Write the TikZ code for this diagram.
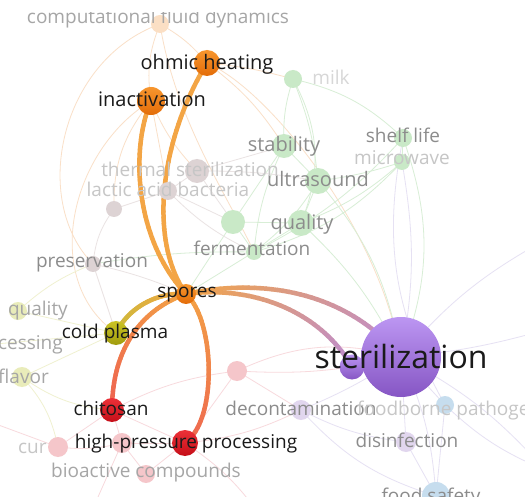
\documentclass[tikz,border=0pt]{standalone}
\usepackage{fontspec}
\setmainfont{Open Sans}
\definecolor{lblk}{HTML}{1A1A1A}
\definecolor{lgry}{HTML}{8C8C8C}
\definecolor{lmid}{HTML}{A6A6A6}
\definecolor{lfnt}{HTML}{C6C6C6}
\definecolor{orT}{HTML}{F7962E}
\definecolor{orB}{HTML}{E36C08}
\definecolor{edO}{HTML}{F3A545}
\definecolor{rdT}{HTML}{EC3138}
\definecolor{rdB}{HTML}{C50E18}
\definecolor{olT}{HTML}{CBC324}
\definecolor{olB}{HTML}{A09C0E}
\definecolor{puT}{HTML}{BC96F2}
\definecolor{puB}{HTML}{8656C4}
\definecolor{edOl}{HTML}{CDBA3A}
\definecolor{edR}{HTML}{EE6450}
\definecolor{edP}{HTML}{BE8CCF}
\definecolor{fOr}{HTML}{FAE0C8}
\definecolor{fGr}{HTML}{D8EED6}
\definecolor{fGy}{HTML}{EAE3E3}
\definecolor{fPu}{HTML}{E6E1F3}
\definecolor{fPk}{HTML}{F8DADD}
\definecolor{fYe}{HTML}{F0F1D0}
\definecolor{nGr}{HTML}{C9E9C7}
\definecolor{nGy}{HTML}{DDD3D4}
\definecolor{nPk}{HTML}{F5C6CA}
\definecolor{nPu}{HTML}{E1D6EE}
\definecolor{nBl}{HTML}{C6DDEE}
\definecolor{nYe}{HTML}{E9ECBA}
\definecolor{nOr}{HTML}{FBDFC4}
\newcommand{\gedge}[6]{%
  \path (#1) .. controls #2 and #3 .. (#4)
    foreach \q [evaluate=\q as \tq using \q/40] in {0,...,40}{coordinate[pos=\tq] (gp\q)};
  \foreach \q in {0,...,39}{%
    \pgfmathtruncatemacro{\qn}{\q+1}%
    \pgfmathtruncatemacro{\pc}{100*\q/39}%
    \draw[strong, #6!\pc!#5] (gp\q) -- (gp\qn);}%
}
\begin{document}
\begin{tikzpicture}[x=1pt,y=-1pt,
  strong/.style={line width=4.5pt, line cap=round},
  fe/.style={line width=0.8pt},
  vdot/.style={circle, inner sep=0pt, minimum size=#1},
  lb/.style={inner sep=0pt, anchor=base, font=\fontsize{19}{19}\selectfont, text=#1},
  lb/.default=lblk,
  big/.style={font=\fontsize{20}{20}\selectfont}]
\useasboundingbox (0,0) rectangle (525,497);
\clip (0,0) rectangle (525,497);
\fill[white] (0,0) rectangle (525,497);
% centres
\coordinate (compfd) at (160,24);
\coordinate (ohmic) at (207,63);
\coordinate (inact) at (151,101);
\coordinate (milk) at (293,79);
\coordinate (stab) at (284,146);
\coordinate (shelf) at (403,138);
\coordinate (micro) at (402,162);
\coordinate (ultra) at (318,181);
\coordinate (qualg) at (301,223);
\coordinate (ferm) at (254,252);
\coordinate (gA) at (233,222);
\coordinate (therm) at (197,171);
\coordinate (lab) at (168,191);
\coordinate (grA) at (114,209);
\coordinate (pres) at (93,264);
\coordinate (spores) at (186,294);
\coordinate (coldp) at (116,333);
\coordinate (qualy) at (18,311);
\coordinate (flav) at (22,377);
\coordinate (chit) at (112,410);
\coordinate (hpp) at (185,443);
\coordinate (pinkA) at (237,371);
\coordinate (pinkB) at (122,443);
\coordinate (bioact) at (146,474);
\coordinate (cur) at (58,447);
\coordinate (decont) at (301,410);
\coordinate (foodb) at (445,405);
\coordinate (disinf) at (406,442);
\coordinate (fsafe) at (436,496);
\coordinate (steril) at (401,357);
\coordinate (sterB) at (352,367);
\coordinate (offR1) at (545,240);
\coordinate (offR2) at (545,470);
\coordinate (offR3) at (545,330);
\coordinate (offL) at (-15,420);
\coordinate (offL2) at (-15,345);
\coordinate (offB) at (260,515);
\coordinate (offB2) at (90,515);
% faint connectors
\draw[fe,fOr] (compfd) to[bend right=15] (inact);
\draw[fe,fOr] (compfd) to[bend left=10] (ohmic);
\draw[fe,fOr] (compfd) .. controls (60,60) and (30,200) .. (pres);
\draw[fe,fOr] (compfd) .. controls (175,120) and (230,200) .. (ferm);
\draw[fe,fOr] (ohmic) .. controls (270,90) and (380,230) .. (steril);
\draw[fe,fOr] (ohmic) to[bend left=5] (milk);
\draw[fe,fOr] (ohmic) to[bend left=10] (stab);
\draw[fe,fOr] (inact) to[bend right=10] (therm);
\draw[fe,fOr] (inact) to[bend right=20] (grA);
\draw[fe,fOr] (inact) to (lab);
\draw[fe,fOr] (inact) .. controls (70,150) and (40,280) .. (coldp);
\draw[fe,fGr] (milk) to[bend right=10] (stab);
\draw[fe,fGr] (milk) to[bend left=8] (ultra);
\draw[fe,fGr] (milk) to[bend left=25] (qualg);
\draw[fe,fGr] (milk) to[bend left=15] (shelf);
\draw[fe,fGr] (stab) to (ultra);
\draw[fe,fGr] (stab) to (gA);
\draw[fe,fGr] (stab) to[bend right=10] (ferm);
\draw[fe,fGr] (shelf) to (micro);
\draw[fe,fGr] (micro) to[bend left=5] (ultra);
\draw[fe,fGr] (micro) to[bend left=10] (qualg);
\draw[fe,fGr] (micro) to[bend left=15] (ferm);
\draw[fe,fGr] (shelf) to[bend left=10] (ferm);
\draw[fe,fGr] (ultra) to (qualg);
\draw[fe,fGr] (ultra) to[bend left=10] (ferm);
\draw[fe,fGr] (qualg) to (ferm);
\draw[fe,fGr] (gA) to (ferm);
\draw[fe,fGr] (gA) to (qualg);
\draw[fe,fGr] (ultra) to[bend left=15] (steril);
\draw[fe,fGr] (qualg) to[bend left=10] (steril);
\draw[fe,fGr] (shelf) to[bend left=20] (steril);
\draw[fe,fGr] (gA) to (spores);
\draw[fe,fGr] (ferm) to (spores);
\draw[fe,fGr] (ferm) to[bend right=5] (pres);
\draw[fe,fGy] (therm) to (lab);
\draw[fe,fGy] (lab) to (grA);
\draw[fe,fGy] (grA) to[bend right=15] (pres);
\draw[fe,fGy] (therm) to (gA);
\draw[fe,fGy] (lab) to (gA);
\draw[fe,fGy] (therm) to (stab);
\draw[fe,fGy] (pres) to[bend left=5] (spores);
\draw[fe,fGy] (pres) to (coldp);
\draw[fe,fGy] (lab) to[bend right=10] (ferm);
\draw[fe,fGy] (therm) to[bend left=5] (ultra);
\draw[fe,fPu] (steril) to (disinf);
\draw[fe,fPu] (steril) to[bend left=10] (fsafe);
\draw[fe,fPu] (steril) to (foodb);
\draw[fe,fPu] (steril) to[bend left=5] (decont);
\draw[fe,fPu] (steril) to[bend left=10] (offR1);
\draw[fe,fPu] (steril) to[bend right=5] (offR3);
\draw[fe,fPu] (steril) to[bend left=10] (offR2);
\draw[fe,fPu] (disinf) to (fsafe);
\draw[fe,fPu] (foodb) to (fsafe);
\draw[fe,fPu] (decont) to[bend right=10] (disinf);
\draw[fe,fPu] (steril) to[bend right=10] (micro);
\draw[fe,fPu] (decont) to[bend right=15] (fsafe);
\draw[fe,fPu] (foodb) to[bend right=10] (offR2);
\draw[fe,fPu] (foodb) to[bend left=20] (shelf);
\draw[fe,fPk] (steril) to[bend left=8] (pinkA);
\draw[fe,fPk] (pinkA) to (hpp);
\draw[fe,fPk] (pinkA) to[bend right=10] (chit);
\draw[fe,fPk] (pinkA) to (decont);
\draw[fe,fPk] (chit) to (hpp);
\draw[fe,fPk] (chit) to (pinkB);
\draw[fe,fPk] (pinkB) to (hpp);
\draw[fe,fPk] (bioact) to (hpp);
\draw[fe,fPk] (bioact) to (pinkB);
\draw[fe,fPk] (cur) to (chit);
\draw[fe,fPk] (cur) to[bend right=10] (pinkB);
\draw[fe,fPk] (cur) to (offL);
\draw[fe,fPk] (hpp) to[bend left=10] (offB);
\draw[fe,fPk] (pinkB) to (offB2);
\draw[fe,fPk] (hpp) to[bend right=10] (decont);
\draw[fe,fPk] (pinkA) to[bend left=20] (steril);
\draw[fe,fYe] (coldp) to (qualy);
\draw[fe,fYe] (coldp) to (flav);
\draw[fe,fYe] (coldp) to (offL2);
\draw[fe,fYe] (flav) to[bend right=15] (chit);
\draw[fe,fYe] (qualy) to[bend left=10] (pres);
\draw[fe,fYe] (flav) to[bend left=15] (cur);
% strong connectors
\gedge{spores}{(135,240)}{(130,150)}{inact}{edO}{edO}
\gedge{spores}{(148,240)}{(160,140)}{ohmic}{edO}{edO}
\gedge{spores}{(160,292)}{(130,305)}{coldp}{edO}{edOl}
\gedge{spores}{(145,308)}{(112,345)}{chit}{edO}{edR}
\gedge{spores}{(215,320)}{(218,420)}{hpp}{edO}{edR}
\gedge{spores}{(260,278)}{(345,290)}{steril}{edO}{edP}
\gedge{spores}{(250,285)}{(320,310)}{sterB}{edO}{edP}
% circles
\node[vdot=18, fill=nOr] (compfd-c) at (compfd) {};
\node[vdot=18, fill=nGr] (milk-c) at (milk) {};
\node[vdot=24, fill=nGr] (stab-c) at (stab) {};
\node[vdot=18, fill=nGr] (shelf-c) at (shelf) {};
\node[vdot=16, fill=nGr] (micro-c) at (micro) {};
\node[vdot=26, fill=nGr] (ultra-c) at (ultra) {};
\node[vdot=26, fill=nGr] (qualg-c) at (qualg) {};
\node[vdot=16, fill=nGr] (ferm-c) at (ferm) {};
\node[vdot=24, fill=nGr] (gA-c) at (gA) {};
\node[vdot=24, fill=nGy] (therm-c) at (therm) {};
\node[vdot=18, fill=nGy] (lab-c) at (lab) {};
\node[vdot=16, fill=nGy] (grA-c) at (grA) {};
\node[vdot=16, fill=nGy] (pres-c) at (pres) {};
\node[vdot=18, fill=nYe] (qualy-c) at (qualy) {};
\node[vdot=20, fill=nYe] (flav-c) at (flav) {};
\node[vdot=20, fill=nPk] (pinkA-c) at (pinkA) {};
\node[vdot=20, fill=nPk] (pinkB-c) at (pinkB) {};
\node[vdot=18, fill=nPk] (bioact-c) at (bioact) {};
\node[vdot=20, fill=nPk] (cur-c) at (cur) {};
\node[vdot=20, fill=nPu] (decont-c) at (decont) {};
\node[vdot=18, fill=nBl] (foodb-c) at (foodb) {};
\node[vdot=20, fill=nPu] (disinf-c) at (disinf) {};
\node[vdot=28, fill=nBl] (fsafe-c) at (fsafe) {};
\node[vdot=26, top color=orT, bottom color=orB] (ohmic-c) at (ohmic) {};
\node[vdot=28, top color=orT, bottom color=orB] (inact-c) at (inact) {};
\node[vdot=20, top color=orT, bottom color=orB] (spores-c) at (spores) {};
\node[vdot=24, top color=olT, bottom color=olB] (coldp-c) at (coldp) {};
\node[vdot=24, top color=rdT, bottom color=rdB] (chit-c) at (chit) {};
\node[vdot=26, top color=rdT, bottom color=rdB] (hpp-c) at (hpp) {};
\node[vdot=25, top color=puT, bottom color=puB] (sterB-c) at (sterB) {};
\node[vdot=80, top color=puT, bottom color=puB] (steril-c) at (steril) {};
% labels
\node[lb=lmid] (compfd-l) at (158,24) {computational fluid dynamics};
\node[lb, big] (ohmic-l) at (207,70) {ohmic heating};
\node[lb, big] (inact-l) at (152,107) {inactivation};
\node[lb=lfnt!70!white] (milk-l) at (331,85) {milk};
\node[lb=lgry, big] (stab-l) at (284,152) {stability};
\node[lb=lgry] (shelf-l) at (403,143) {shelf life};
\node[lb=lfnt] (micro-l) at (402,165) {microwave};
\node[lb=lgry, big] (ultra-l) at (318,187) {ultrasound};
\node[lb=lgry, big] (qualg-l) at (302,230) {quality};
\node[lb=lgry] (ferm-l) at (252,255) {fermentation};
\node[lb=lfnt] (therm-l) at (190,177) {thermal sterilization};
\node[lb=lfnt] (lab-l) at (168,197) {lactic acid bacteria};
\node[lb=lgry] (pres-l) at (92,268) {preservation};
\node[lb] (spores-l) at (187,298) {spores};
\node[lb] (coldp-l) at (115,338) {cold plasma};
\node[lb=lmid, anchor=base east] (qualy-l) at (68,315) {quality};
\node[lb=lmid, anchor=base east] (proc-l) at (63,349) {processing};
\node[lb=lmid, anchor=base east] (flav-l) at (49,383) {flavor};
\node[lb] (chit-l) at (111,415) {chitosan};
\node[lb] (hpp-l) at (186,448) {high-pressure processing};
\node[lb=lfnt, anchor=base west] (cur-l) at (18,453) {cur};
\node[lb=lmid] (bioact-l) at (146,477) {bioactive compounds};
\node[lb=lgry] (decont-l) at (301,415) {decontamination};
\node[lb=lfnt, anchor=base west] (foodb-l) at (357,415) {foodborne pathogens};
\node[lb=lgry] (disinf-l) at (407,447) {disinfection};
\node[lb=lgry] (fsafe-l) at (431,502) {food safety};
\node[lb, font=\fontsize{32}{32}\selectfont] (steril-l) at (401,368) {sterilization};
% top band where the map is cut
\fill[white] (0,0) rectangle (525,12);
\end{tikzpicture}
\end{document}
